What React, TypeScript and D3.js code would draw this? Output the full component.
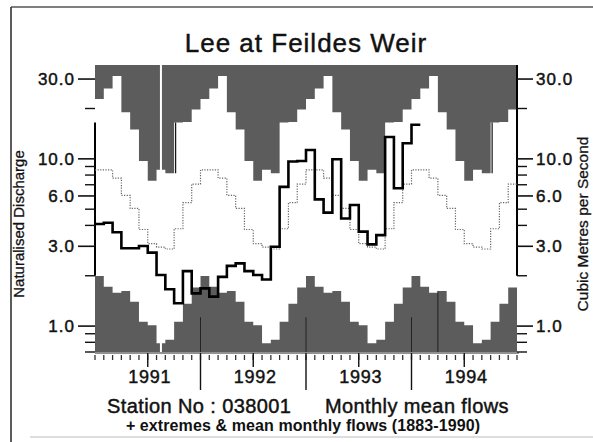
import React from 'react';
import * as d3 from 'd3';

// Monthly mean flows, Jan 1991 .. Jan 1994 (m3/s)
const flows = [4.08, 4.15, 3.64, 2.92, 2.92, 3.01, 2.75, 2.02, 1.66, 1.37, 2.13, 1.57,
  1.68, 1.5, 1.97, 2.29, 2.37, 2.13, 2.02, 1.9, 2.98, 6.8, 9.65, 9.7,
  11.3, 5.72, 4.77, 9.95, 4.4, 5.3, 3.67, 3.08, 3.5, 13.5, 6.67, 12.4,
  16.0];
// Period-of-record statistics per calendar month (Jan..Dec)
const meanMonthly = [8.6, 8.6, 7.66, 6.05, 5.05, 3.78, 3.11, 2.97, 2.89, 3.82, 5.47, 7.07];
const maxMonthly = [22.8, 26.3, 31.3, 19.0, 15.0, 9.7, 7.4, 8.6, 8.2, 16.5, 16.6, 19.7];
const minMonthly = [1.99, 1.72, 1.58, 1.62, 1.4, 1.06, 1.01, 0.79, 0.83, 1.06, 1.36, 1.7];
const yearLabels = ['1991', '1992', '1993', '1994'];
const majorTicks = [1, 3, 6, 10, 30];
const minorTicks = [0.7, 0.8, 0.9, 2, 4, 5, 7, 8, 9, 20];
const bandMarkMonths = [12, 24, 36, 39];
const bandMarkTops = [1.13, 1.13, 1.13, 1.62];
const edgeMonths = [9, 45];

const W = 593;
const H = 442;
const FONT = '"Liberation Sans", Arial, Helvetica, sans-serif';
const INK = '#111';

export default function App() {
  const nMonths = yearLabels.length * 12;
  const x = d3.scaleLinear().domain([0, nMonths]).range([95, 517]);
  const y = d3.scaleLog().domain([0.7, 36.4]).range([352, 65]);
  const [yBottom, yTop] = y.range();

  const repeat = (arr: number[]) => d3.range(nMonths).map((i) => arr[i % 12]);
  const stepPts = (arr: number[]): [number, number][] => [
    ...arr.map((v, i) => [i, v] as [number, number]),
    [arr.length, arr[arr.length - 1]],
  ];

  const topArea = d3
    .area<[number, number]>()
    .x((d) => x(d[0]))
    .y0(yTop)
    .y1((d) => y(d[1]))
    .curve(d3.curveStepAfter);
  const bottomArea = d3
    .area<[number, number]>()
    .x((d) => x(d[0]))
    .y0(yBottom)
    .y1((d) => y(d[1]))
    .curve(d3.curveStepAfter);
  const stepLine = d3
    .line<[number, number]>()
    .x((d) => x(d[0]))
    .y((d) => y(d[1]))
    .curve(d3.curveStepAfter);

  const maxSeries = stepPts(repeat(maxMonthly));
  const minSeries = stepPts(repeat(minMonthly));
  const meanSeries = stepPts(repeat(meanMonthly));
  const flowSeries = stepPts(flows);

  const fmt = d3.format('.1f');
  const band = '#5c5c5c';
  const axisY = yBottom + 1;
  const textStroke = { stroke: INK, strokeWidth: 0.45 };

  return (
    <svg
      width={W}
      height={H}
      viewBox={`0 0 ${W} ${H}`}
      style={{ position: 'absolute', left: 0, top: 0, background: '#fff' }}
      fontFamily={FONT}
    >
      <rect x={0} y={0} width={W} height={H} fill="#fff" />
      {/* page frame */}
      <line x1={11} y1={7} x2={W} y2={7} stroke="#555" strokeWidth={1.5} />
      <line x1={11} y1={7} x2={11} y2={H} stroke="#333" strokeWidth={1.6} />
      <line x1={30} y1={437} x2={W} y2={437} stroke="#bbb" strokeWidth={1.2} />

      {/* title */}
      <text x={306} y={52} textAnchor="middle" fontSize={26} letterSpacing={1} fill={INK} {...textStroke}>
        Lee at Feildes Weir
      </text>

      {/* extremes bands */}
      <path d={topArea(maxSeries) || ''} fill={band} />
      <path d={bottomArea(minSeries) || ''} fill={band} />
      <line x1={x(7.5)} x2={x(7.5)} y1={yTop} y2={yBottom} stroke="#fff" strokeWidth={2} />
      {bandMarkMonths.map((m, i) => (
        <line key={'bm' + m} x1={x(m)} x2={x(m)} y1={y(bandMarkTops[i])} y2={yBottom} stroke="#222" strokeWidth={1} />
      ))}
      {edgeMonths.map((m) => (
        <line key={'em' + m} x1={x(m) + 1.5} x2={x(m) + 1.5} y1={y(maxMonthly[m % 12])} y2={y(maxMonthly[(m - 1) % 12])} stroke="#111" strokeWidth={1.2} />
      ))}

      {/* partial frame lines */}
      <line x1={95} x2={95} y1={y(16.5)} y2={y(2.0)} stroke="#000" strokeWidth={2} />
      <line x1={517} x2={517} y1={yTop} y2={y(2.0)} stroke="#000" strokeWidth={2} />

      {/* mean monthly flow (dotted) */}
      <path d={stepLine(meanSeries) || ''} fill="none" stroke="#666" strokeWidth={1.2} strokeDasharray="1.2,1.4" />
      {/* monthly flows */}
      <path d={stepLine(flowSeries) || ''} fill="none" stroke="#000" strokeWidth={2.6} strokeLinejoin="miter" />

      {/* y axes ticks */}
      {majorTicks.map((t) => (
        <g key={'M' + t}>
          <line x1={78} x2={95} y1={y(t)} y2={y(t)} stroke="#111" strokeWidth={1.6} />
          <line x1={517} x2={533} y1={y(t)} y2={y(t)} stroke="#111" strokeWidth={1.6} />
          <text x={75} y={y(t)} dy="0.36em" textAnchor="end" fontSize={17} letterSpacing={1} fill={INK} {...textStroke}>
            {fmt(t)}
          </text>
          <text x={536} y={y(t)} dy="0.36em" textAnchor="start" fontSize={17} letterSpacing={1} fill={INK} {...textStroke}>
            {fmt(t)}
          </text>
        </g>
      ))}
      {minorTicks.map((t) => (
        <g key={'m' + t}>
          <line x1={85} x2={95} y1={y(t)} y2={y(t)} stroke="#111" strokeWidth={1.4} />
          <line x1={517} x2={527} y1={y(t)} y2={y(t)} stroke="#111" strokeWidth={1.4} />
        </g>
      ))}

      {/* x axis */}
      <line x1={x(0)} x2={x(nMonths) + 2} y1={axisY} y2={axisY} stroke="#222" strokeWidth={1.2} />
      {d3.range(nMonths + 1).map((i) => (
        <line key={'mt' + i} x1={x(i)} x2={x(i)} y1={axisY + 2} y2={axisY + 7} stroke="#333" strokeWidth={1.3} />
      ))}
      {yearLabels.map((lab, k) => (
        <g key={lab}>
          <line x1={x(k * 12 + 6)} x2={x(k * 12 + 6)} y1={axisY} y2={axisY + 14} stroke="#111" strokeWidth={1.4} />
          {k > 0 && (
            <line x1={x(k * 12)} x2={x(k * 12)} y1={axisY} y2={390} stroke="#111" strokeWidth={1.4} />
          )}
          <text x={x(k * 12 + 6) + 2} y={383} textAnchor="middle" fontSize={18} letterSpacing={0.8} fill={INK} {...textStroke}>
            {lab}
          </text>
        </g>
      ))}

      {/* axis titles */}
      <text transform={`translate(24,224) rotate(-90)`} textAnchor="middle" fontSize={15} fill={INK} stroke={INK} strokeWidth={0.3}>
        Naturalised Discharge
      </text>
      <text transform={`translate(588,224) rotate(-90)`} textAnchor="middle" fontSize={15.5} fill={INK} stroke={INK} strokeWidth={0.3}>
        Cubic Metres per Second
      </text>

      {/* footer */}
      <text x={107} y={413} fontSize={20} letterSpacing={0.4} fill={INK} {...textStroke}>
        Station No : 038001
      </text>
      <text x={325} y={413} fontSize={20} letterSpacing={0.4} fill={INK} {...textStroke}>
        Monthly mean flows
      </text>
      <text x={303} y={431} textAnchor="middle" fontSize={16} fontWeight="bold" letterSpacing={0.1} fill={INK}>
        + extremes &amp; mean monthly flows (1883-1990)
      </text>
    </svg>
  );
}
